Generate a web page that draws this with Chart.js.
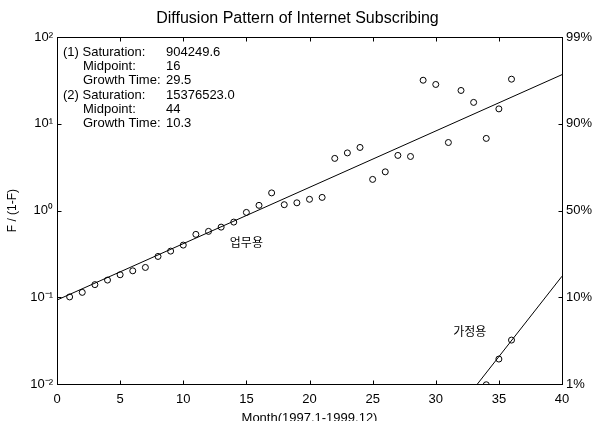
<!DOCTYPE html>
<html>
<head>
<meta charset="utf-8">
<script src="https://cdn.jsdelivr.net/npm/chart.js@4.4.1/dist/chart.umd.min.js"></script>
<style>
  body { margin: 0; background: #fff; }
  #wrap { width: 595px; height: 421px; }
</style>
</head>
<body>
<div id="wrap"><canvas id="diffusionChart" width="595" height="421"></canvas></div>
<script>
// months 1..36 (1997.1 - 1999.12), business users (업무용)
const businessMonths = [1, 2, 3, 4, 5, 6, 7, 8, 9, 10, 11, 12, 13, 14, 15, 16, 17, 18,
  19, 20, 21, 22, 23, 24, 25, 26, 27, 28, 29, 30, 31, 32, 33, 34, 35, 36];
const businessRatio = [0.101, 0.114, 0.14, 0.158, 0.182, 0.202, 0.221, 0.296, 0.341, 0.40,
  0.532, 0.576, 0.645, 0.737, 0.953, 1.15, 1.60, 1.17, 1.23, 1.35, 1.42, 4.0, 4.63, 5.35,
  2.29, 2.80, 4.33, 4.21, 31.9, 28.5, 6.1, 24.3, 17.7, 6.8, 14.9, 32.8];

// household users (가정용)
const homeMonths = [34, 35, 36];
const homeRatio = [0.0098, 0.0194, 0.0321];

// fitted lines (end points)
const fitBusinessX = [0, 40];
const fitBusinessY = [0.093, 37];
const fitHomeX = [33.3, 40];
const fitHomeY = [0.01, 0.175];

const xTicks = [0, 5, 10, 15, 20, 25, 30, 35, 40];
const yTicks = [0.01, 0.1, 1, 10, 100];
const yTickLabels = ['10\u207B\u00B2', '10\u207B\u00B9', '10\u2070', '10\u00B9', '10\u00B2'];
const rightTickLabels = ['1%', '10%', '50%', '90%', '99%'];

const noteLabels = ['(1) Saturation:', 'Midpoint:', 'Growth Time:', '(2) Saturation:', 'Midpoint:', 'Growth Time:'];
const noteValues = ['904249.6', '16', '29.5', '15376523.0', '44', '10.3'];

const FONT = "'Liberation Sans', Arial, sans-serif";

function toPoints(xs, ys) {
    return xs.map((x, i) => ({ x: x, y: ys[i] }));
}

// Plugin: box, inward ticks, parameter notes and Korean labels
const decorPlugin = {
    id: 'decor',
    afterDraw(chart) {
        const { ctx, chartArea: a, scales } = chart;
        const x = scales.x, y = scales.y;
        ctx.save();
        ctx.strokeStyle = '#000';
        ctx.lineWidth = 1;
        const L = Math.round(a.left) + 0.5, R = Math.round(a.right) + 0.5;
        const T = Math.round(a.top) + 0.5, B = Math.round(a.bottom) + 0.5;
        ctx.strokeRect(L, T, R - L, B - T);

        const len = 4;
        ctx.beginPath();
        xTicks.forEach(v => {
            const px = Math.round(x.getPixelForValue(v)) + 0.5;
            ctx.moveTo(px, B); ctx.lineTo(px, B - len);
            ctx.moveTo(px, T); ctx.lineTo(px, T + len);
        });
        yTicks.forEach(v => {
            const py = Math.round(y.getPixelForValue(v)) + 0.5;
            ctx.moveTo(L, py); ctx.lineTo(L + len, py);
            ctx.moveTo(R, py); ctx.lineTo(R - len, py);
        });
        ctx.stroke();

        // parameter notes
        ctx.fillStyle = '#000';
        ctx.font = '13px ' + FONT;
        ctx.textBaseline = 'middle';
        ctx.textAlign = 'left';
        noteLabels.forEach((t, i) => {
            const ty = a.top + 15 + i * 14.3;
            const tx = (i % 3 === 0) ? a.left + 6 : a.left + 26;
            ctx.fillText(t, tx, ty);
            ctx.fillText(noteValues[i], a.left + 109, ty);
        });

        // Korean labels
        ctx.font = "12px 'Noto Sans CJK KR', sans-serif";
        ctx.textAlign = 'center';
        ctx.fillText('업무용', x.getPixelForValue(15), y.getPixelForValue(0.434));
        ctx.fillText('가정용', x.getPixelForValue(32.7), y.getPixelForValue(0.040));
        ctx.restore();
    }
};

const ctx = document.getElementById('diffusionChart').getContext('2d');
const diffusionChart = new Chart(ctx, {
    data: {
        datasets: [
            {
                type: 'scatter',
                label: '업무용',
                data: toPoints(businessMonths, businessRatio),
                pointRadius: 3,
                pointBorderWidth: 1,
                borderColor: '#000',
                backgroundColor: 'rgba(255,255,255,0)',
            },
            {
                type: 'scatter',
                label: '가정용',
                data: toPoints(homeMonths, homeRatio),
                pointRadius: 3,
                pointBorderWidth: 1,
                borderColor: '#000',
                backgroundColor: 'rgba(255,255,255,0)',
            },
            {
                type: 'line',
                label: 'fit 1',
                data: toPoints(fitBusinessX, fitBusinessY),
                borderColor: '#000',
                borderWidth: 1,
                pointRadius: 0,
                fill: false,
            },
            {
                type: 'line',
                label: 'fit 2',
                data: toPoints(fitHomeX, fitHomeY),
                borderColor: '#000',
                borderWidth: 1,
                pointRadius: 0,
                fill: false,
            }
        ]
    },
    options: {
        responsive: false,
        animation: false,
        layout: { padding: 0 },
        plugins: {
            legend: { display: false },
            tooltip: { enabled: false },
            title: {
                display: true,
                text: 'Diffusion Pattern of Internet Subscribing',
                color: '#000',
                font: { family: FONT, size: 16, weight: 'normal' },
                padding: { top: 9, bottom: 9 },
            }
        },
        scales: {
            x: {
                type: 'linear',
                position: 'bottom',
                min: 0,
                max: 40,
                afterBuildTicks: (scale) => { scale.ticks = xTicks.map(v => ({ value: v })); },
                afterFit: (scale) => { scale.height = 37; },
                grid: { display: false, drawTicks: false },
                border: { display: false },
                ticks: {
                    color: '#000',
                    padding: 8,
                    maxRotation: 0,
                    font: { family: FONT, size: 13 },
                },
                title: {
                    display: true,
                    text: 'Month(1997.1-1999.12)',
                    color: '#000',
                    font: { family: FONT, size: 13 },
                    padding: { top: 0, bottom: -5 },
                }
            },
            y: {
                type: 'logarithmic',
                position: 'left',
                min: 0.01,
                max: 100,
                afterBuildTicks: (scale) => { scale.ticks = yTicks.map(v => ({ value: v })); },
                afterFit: (scale) => { scale.width = 57; },
                grid: { display: false, drawTicks: false },
                border: { display: false },
                ticks: {
                    color: '#000',
                    padding: 4,
                    font: { family: FONT, size: 13 },
                    callback: (value) => yTickLabels[yTicks.indexOf(value)],
                },
                title: {
                    display: true,
                    text: 'F / (1-F)',
                    color: '#000',
                    font: { family: FONT, size: 12 },
                    padding: { top: 5, bottom: 0 },
                }
            },
            y2: {
                type: 'logarithmic',
                position: 'right',
                min: 0.01,
                max: 100,
                afterBuildTicks: (scale) => { scale.ticks = yTicks.map(v => ({ value: v })); },
                afterFit: (scale) => { scale.width = 33; },
                grid: { display: false, drawTicks: false },
                border: { display: false },
                ticks: {
                    color: '#000',
                    padding: 4,
                    font: { family: FONT, size: 13 },
                    callback: (value) => rightTickLabels[yTicks.indexOf(value)],
                }
            }
        }
    },
    plugins: [decorPlugin]
});
</script>
</body>
</html>
